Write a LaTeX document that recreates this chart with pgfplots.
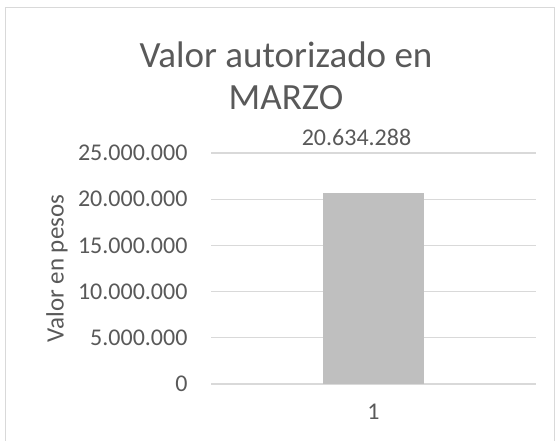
\documentclass[border=0pt]{standalone}
\usepackage{pgfplots}
\pgfplotsset{compat=1.18}
\usepackage{fontspec}
\setmainfont{Carlito}
\definecolor{txt}{HTML}{595959}
\definecolor{gridc}{HTML}{D9D9D9}
\definecolor{barc}{HTML}{BFBFBF}
\begin{document}
\begin{tikzpicture}[x=1pt,y=1pt]
\useasboundingbox (0,0) rectangle (559,441);
\draw[gridc, line width=1pt] (5.5,-5) rectangle (554,433);
\node[anchor=base, text=txt, font=\fontsize{37}{42}\selectfont] at (286,373) {Valor autorizado en};
\node[anchor=base, text=txt, font=\fontsize{37}{42}\selectfont] at (286,331) {MARZO};
\begin{axis}[
  at={(211pt,57pt)}, anchor=south west,
  scale only axis, width=325pt, height=231pt,
  xmin=0.5, xmax=1.5, ymin=0, ymax=25000000,
  axis line style={draw=none},
  major tick length=0pt,
  ymajorgrids, xmajorgrids=false, grid style={draw=gridc, line width=1.3pt},
  xtick={1}, xticklabels={1},
  ytick={0,5000000,10000000,15000000,20000000,25000000},
  yticklabels={0,5.000.000,10.000.000,15.000.000,20.000.000,25.000.000},
  scaled y ticks=false,
  tick label style={text=txt, font=\fontsize{24}{28}\selectfont},
  x tick label style={yshift=-17pt},
  y tick label style={xshift=-20pt},
  ylabel={Valor en pesos},
  every axis y label/.style={at={(axis description cs:0,0.5)}, xshift=-154pt, rotate=90, anchor=center, text=txt, font=\fontsize{25}{28}\selectfont},
  point meta=explicit symbolic,
  nodes near coords,
  every node near coord/.style={anchor=center, yshift=55.5pt, xshift=-17pt, text=txt, font=\fontsize{24}{28}\selectfont},
  clip=false,
]
\addplot[ybar, bar width=101pt, fill=barc, draw=none] coordinates {(1,20634288) [20.634.288]};
\end{axis}
\end{tikzpicture}
\end{document}
